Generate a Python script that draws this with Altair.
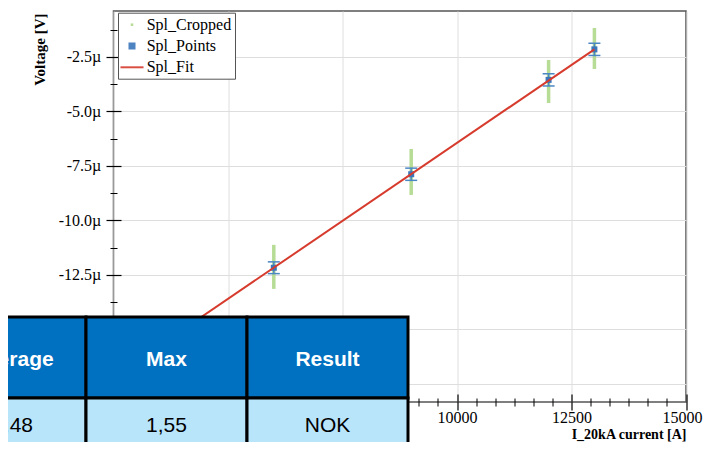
import altair as alt
import pandas as pd

# ---------------- data ----------------
current = [6000, 9000, 12000, 13000]            # I_20kA current [A]
voltage = [-12.17, -7.88, -3.55, -2.15]         # Spl_Points, micro-volt
volt_err = [0.27, 0.28, 0.28, 0.28]             # error bar half height, micro-volt
crop_lo = [-13.14, -8.83, -4.61, -3.05]         # Spl_Cropped spread, micro-volt
crop_hi = [-11.12, -6.72, -2.64, -1.17]
fit_x = [3000, 13000]                           # Spl_Fit end points
fit_y = [-16.46, -2.15]

series = ["Spl_Cropped", "Spl_Points", "Spl_Fit"]
series_colors = ["#aed88a", "#3b76bb", "#d63b2d"]

x_major = [2500, 5000, 7500, 10000, 12500, 15000]
y_major = [-17.5, -15.0, -12.5, -10.0, -7.5, -5.0, -2.5]

table_cols = ["Average", "Max", "Result"]
table_vals = ["1,48", "1,55", "NOK"]

# ---------------- helpers ----------------
SERIF = "Liberation Serif"
SANS = "Liberation Sans"
x_minor = [a + k * (2500 / 6) for a in x_major[:-1] for k in range(1, 6)]
y_minor = [v + 1.25 for v in y_major]

pts = pd.DataFrame({"current": current, "voltage": voltage, "err": volt_err,
                    "series": "Spl_Points"})
crop = pd.DataFrame({"current": current, "lo": crop_lo, "hi": crop_hi,
                     "series": "Spl_Cropped"})
fit = pd.DataFrame({"current": fit_x, "voltage": fit_y, "series": "Spl_Fit"})

rows = []
for i, (c, v) in enumerate(zip(table_cols, table_vals)):
    rows.append({"col": i, "row": 0, "text": c})
    rows.append({"col": i, "row": 1, "text": v})
table = pd.DataFrame(rows)

xs = alt.Scale(domain=[2500, 15000], nice=False, zero=False)
ys = alt.Scale(domain=[-18.33, -0.39], nice=False, zero=False)

DOT = "M-0.14,-0.14H0.14V0.14H-0.14Z"
SQUARE = "M-0.39,-0.39H0.39V0.39H-0.39Z"
LINE = "M-1.28,-0.11H1.28V0.11H-1.28Z"
color_scale = alt.Scale(domain=series, range=series_colors)
shape_scale = alt.Scale(domain=series, range=[DOT, SQUARE, LINE])

NBSP = "\u00a0" * 7
legend = alt.Legend(
    title=None, orient="none", legendX=4.5, legendY=1.7, direction="vertical",
    fillColor="white", strokeColor="#555555", padding=3,
    symbolSize=324, symbolOffset=2, labelOffset=5.7, rowPadding=4.3,
    labelFont=SERIF, labelFontSize=16, labelColor="black",
    symbolStrokeWidth=0, labelExpr="datum.label + '" + NBSP + "'",
)

# labels that sit under the overlaid table are hidden by it in the reference
x_axis_major = alt.Axis(
    orient="bottom", values=x_major, offset=-8, tickSize=16,
    labelExpr="datum.value >= 10000 ? format(datum.value, 'd') : ''",
    labelOffset={"condition": {"test": "datum.value === 15000", "value": -4}, "value": 0},
    domain=False, grid=True, gridColor="#dedede", gridWidth=1,
    labelFont=SERIF, labelFontSize=16, labelColor="black", labelPadding=-1,
    labelFlush=False, labelOverlap=False, tickColor="black", tickWidth=1.2,
    title="I_20kA current [A]", titleFont=SERIF, titleFontSize=14,
    titleFontWeight="bold", titleColor="black", titleAnchor="end",
    titleBaseline="alphabetic", titleY=44.5, zindex=0,
)
x_axis_minor = alt.Axis(
    orient="bottom", values=x_minor, offset=-4, tickSize=8, domain=False,
    grid=False, labels=False, tickColor="black", tickWidth=1, title=None, zindex=0,
)
y_axis_major = alt.Axis(
    orient="left", values=y_major,
    labelExpr="datum.value < -14 ? '' : '-' + format(abs(datum.value), '.1f') + '\u00b5'",
    offset=-7.5, tickSize=15, domain=False, grid=True, gridColor="#dedede",
    gridWidth=1, labelFont=SERIF, labelFontSize=16, labelColor="black",
    labelPadding=5.3, labelFlush=False, labelOverlap=False, tickColor="black",
    tickWidth=1.2, title="Voltage [V]", titleFont=SERIF, titleFontSize=15,
    titleFontWeight="bold", titleColor="black", titleAnchor="end",
    titleX=-74, titleY=2, zindex=0,
)
y_axis_minor = alt.Axis(
    orient="left", values=y_minor, offset=-3.5, tickSize=7, domain=False,
    grid=False, labels=False, tickColor="black", tickWidth=1, title=None, zindex=0,
)

color_enc = alt.Color("series:N", scale=color_scale, legend=legend)

crop_layer = alt.Chart(crop).mark_rule(strokeWidth=3.5, opacity=0.9).encode(
    x=alt.X("current:Q", scale=xs, axis=x_axis_major),
    y=alt.Y("lo:Q", scale=ys, axis=y_axis_major),
    y2="hi:Q",
    color=color_enc,
)

err_layer = alt.Chart(pts).transform_calculate(
    lo="datum.voltage - datum.err", hi="datum.voltage + datum.err"
).mark_rule(strokeWidth=1.5, color="#4b87c5").encode(
    x=alt.X("current:Q", scale=xs, axis=x_axis_minor),
    y=alt.Y("lo:Q", scale=ys, axis=y_axis_minor),
    y2="hi:Q",
)

cap_layer = alt.Chart(pts).transform_calculate(
    lo="datum.voltage - datum.err", hi="datum.voltage + datum.err"
).transform_fold(["lo", "hi"], as_=["end", "v"]).mark_tick(
    orient="horizontal", size=12, thickness=1.5, color="#4b87c5", opacity=1
).encode(
    x=alt.X("current:Q", scale=xs, axis=None),
    y=alt.Y("v:Q", scale=ys, axis=None),
)

sq_layer = alt.Chart(pts).mark_point(filled=True, size=237, opacity=1).encode(
    x=alt.X("current:Q", scale=xs, axis=None),
    y=alt.Y("voltage:Q", scale=ys, axis=None),
    color=color_enc,
    shape=alt.Shape("series:N", scale=shape_scale, legend=legend),
)

fit_layer = alt.Chart(fit).mark_line(strokeWidth=2).encode(
    x=alt.X("current:Q", scale=xs, axis=None),
    y=alt.Y("voltage:Q", scale=ys, axis=None),
    color=color_enc,
)

plot = alt.layer(crop_layer, err_layer, cap_layer, sq_layer, fit_layer).resolve_axis(
    x="independent", y="independent"
)

# ---------------- overlaid table ----------------
tx = alt.Scale(domain=[0, 3], range=[-188.5, 294.5], nice=False, zero=False)
ty = alt.Scale(domain=[0, 2], range=[306, 468], nice=False, zero=False)

base = alt.Chart(table).transform_calculate(
    c1="datum.col + 1", r1="datum.row + 1",
    tx="datum.col === 0 ? 0.544 : datum.col + 0.5", tyc="datum.row + 0.5",
)
cells = base.mark_rect(stroke="black", strokeWidth=3).encode(
    x=alt.X("col:Q", scale=tx, axis=None),
    x2="c1:Q",
    y=alt.Y("row:Q", scale=ty, axis=None),
    y2="r1:Q",
    fill=alt.condition("datum.row === 0", alt.value("#0070c0"), alt.value("#b9e5fb")),
)
head_text = base.transform_filter("datum.row === 0").mark_text(
    font=SANS, fontSize=21, fontWeight="bold", color="white", baseline="middle", dy=2.5
).encode(
    x=alt.X("tx:Q", scale=tx, axis=None),
    y=alt.Y("tyc:Q", scale=ty, axis=None),
    text="text:N",
)
val_text = base.transform_filter("datum.row === 1").mark_text(
    font=SANS, fontSize=21, color="black", baseline="middle", dy=-13
).encode(
    x=alt.X("tx:Q", scale=tx, axis=None),
    y=alt.Y("tyc:Q", scale=ty, axis=None),
    text="text:N",
)
table_layer = alt.layer(cells, head_text, val_text)

chart = alt.layer(plot, table_layer).resolve_scale(
    x="independent", y="independent"
).resolve_axis(
    x="independent", y="independent"
).properties(
    width=572.5, height=391,
    padding={"left": 105.5, "top": 3, "right": 17, "bottom": 40},
    autosize=alt.AutoSizeParams(type="none"),
).configure_view(stroke="#555555", strokeWidth=1.5)

chart.save("out.html", embed_options={"renderer": "svg", "actions": False})
